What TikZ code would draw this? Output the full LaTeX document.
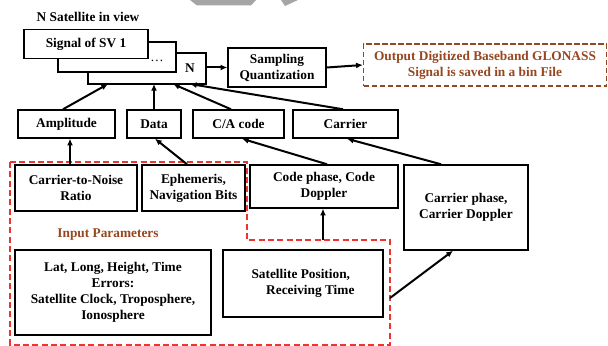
\documentclass[tikz,border=0pt]{standalone}
\usepackage{fontspec}
\setmainfont{Liberation Serif}
\usetikzlibrary{arrows.meta}
\definecolor{redline}{RGB}{238,52,46}
\definecolor{brownline}{RGB}{150,70,32}
\definecolor{marklite}{RGB}{165,165,165}
\tikzset{
  box/.style={draw=black, line width=1.1pt, fill=white, rectangle, inner sep=0pt,
              align=center, font=\bfseries\fontsize{10}{12}\selectfont},
  txt/.style={inner sep=0pt, align=center, font=\bfseries\fontsize{10}{12}\selectfont},
  arr/.style={line width=1.5pt, -{Latex[length=5pt,width=4.5pt]}},
  reddash/.style={draw=redline, line width=1.4pt, dash pattern=on 4.5pt off 2.5pt},
}
\begin{document}
\begin{tikzpicture}[x=0.75pt,y=-0.75pt]
\useasboundingbox (0,0) rectangle (608,346);

% faint grey mark at the top edge
\fill[marklite] (190,0) -- (256,0) -- (251,5.5) -- (197,5.5) -- cycle;
\fill[marklite] (281,0) -- (298,0) -- (285,6) -- cycle;

% stack of satellite signal boxes
\node[txt] (title) at (88,17) {N Satellite in view};
\node[box, minimum width=118*0.75pt, minimum height=31*0.75pt] (svN) at (147,68.5) {};
\node[box, minimum width=118*0.75pt, minimum height=30*0.75pt] (sv2) at (117,57) {};
\node[box, minimum width=124*0.75pt, minimum height=29*0.75pt] (sv1) at (86,44) {Signal of SV 1};
\node[txt] (dots) at (157,61) {\textmd{\dots}};
\node[txt] (nlab) at (190,68) {N};

% sampling and output
\node[box, minimum width=98*0.75pt, minimum height=39*0.75pt] (samp) at (277,67.5) {Sampling\\Quantization};
\node[box, draw=brownline, text=brownline, dash pattern=on 4pt off 2pt,
      minimum width=243*0.75pt, minimum height=42*0.75pt] (out) at (485,65)
      {Output Digitized Baseband GLONASS\\Signal is saved in a bin File};
\draw[arr] (svN.east |- samp) -- (samp.west);
\draw[arr] (samp.east) -- (out.west);

% signal components
\node[box, minimum width=97*0.75pt, minimum height=28*0.75pt] (amp) at (66.5,124) {Amplitude};
\node[box, minimum width=54*0.75pt, minimum height=28*0.75pt] (data) at (154,124) {Data};
\node[box, minimum width=91*0.75pt, minimum height=28*0.75pt] (ca) at (238.5,124) {C/A code};
\node[box, minimum width=105*0.75pt, minimum height=28*0.75pt] (car) at (345.5,124) {Carrier};

\coordinate (inA) at (108,84);
\coordinate (inD) at (154,84);
\coordinate (inC) at (173,84);
\coordinate (inR) at (190,84);
\draw[arr] (amp.north -| 63,0) -- (inA);
\draw[arr] (data.north) -- (inD);
\draw[arr] (ca.north -| 231,0) -- (inC);
\draw[arr] (car.north -| 343,0) -- (inR);

% input parameter region
\draw[reddash] (10,162) -- (247,162) -- (247,240) -- (390,240) -- (390,345) -- (10,345) -- cycle;
\coordinate (redT) at (323,240);
\coordinate (redR) at (390,298);
\node[txt, text=brownline] (inp) at (108,235) {Input Parameters};

\node[box, minimum width=122*0.75pt, minimum height=46*0.75pt] (cnr) at (76,188) {Carrier-to-Noise\\Ratio};
\node[box, minimum width=103*0.75pt, minimum height=46*0.75pt] (eph) at (193.5,188) {Ephemeris,\\Navigation Bits};
\node[box, minimum width=196*0.75pt, minimum height=85*0.75pt] (lat) at (113,292.5)
      {Lat, Long, Height, Time\\Errors:\\Satellite Clock, Troposphere,\\Ionosphere};
\node[box, minimum width=160*0.75pt, minimum height=67*0.75pt, align=left] (satpos) at (303,283.5)
      {Satellite Position,\\\hspace*{1.1em}Receiving Time};

% phase and Doppler boxes
\node[box, minimum width=148*0.75pt, minimum height=43*0.75pt] (code) at (324,186.5) {Code phase, Code\\Doppler};
\node[box, minimum width=124*0.75pt, minimum height=85*0.75pt] (cph) at (466,207.5) {Carrier phase,\\Carrier Doppler};

\draw[arr] (cnr.north -| 70,0) -- (amp.south -| 70,0);
\draw[arr] (eph.north -| 187,0) -- (data.south -| 155,0);
\draw[arr] (code.north -| 327,0) -- (ca.south -| 242,0);
\draw[arr] (cph.north -| 441,0) -- (car.south -| 347,0);
\draw[arr] (redT) -- (code.south -| redT);
\draw[arr] (redR) -- (cph.south -| 453,0);
\end{tikzpicture}
\end{document}
